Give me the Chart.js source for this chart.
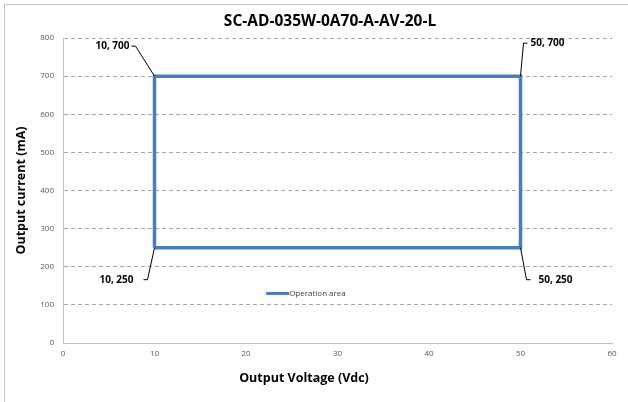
<!DOCTYPE html>
<html>
<head>
<meta charset="utf-8">
<script src="https://cdn.jsdelivr.net/npm/chart.js@4/dist/chart.umd.min.js"></script>
<style>
  html, body { margin: 0; padding: 0; background: #fff; }
  #wrap { position: relative; width: 628px; height: 402px; overflow: hidden; }
  #frame { position: absolute; left: 4px; top: 4px; width: 640px; height: 420px; border: 1px solid #c8c8c8; box-sizing: border-box; pointer-events: none; }
  canvas { position: absolute; left: 0; top: 0; }
</style>
</head>
<body>
<div id="wrap">
  <canvas id="chart" width="628" height="402"></canvas>
  <div id="frame"></div>
</div>
<script>
// === Data ===
const voltage = [10, 10, 50, 50, 10];
const current = [250, 700, 700, 250, 250];
const seriesName = 'Operation area';
const chartTitle = 'SC-AD-035W-0A70-A-AV-20-L';
const xTitle = 'Output Voltage (Vdc)';
const yTitle = 'Output current (mA)';
// corner labels: [x, y] of the point being labelled
const labelPoints = [[10, 700], [50, 700], [10, 250], [50, 250]];

const lineColor = '#4a7ebb';
const textFont = "'Open Sans', 'Liberation Sans', sans-serif";

// === Corner labels, titles + legend plugin ===
// leader line: point -> elbow (dx, dy) -> short tick, then text after a gap
const labelLayout = [
  { dx: -19, dy: -30, side: 'left', gap: 2 },
  { dx: 3, dy: -33, side: 'right', gap: 3 },
  { dx: -7, dy: 32, side: 'left', gap: 10 },
  { dx: 6, dy: 32, side: 'right', gap: 8 }
];

const overlay = {
  id: 'overlay',
  afterDraw(chart) {
    const { ctx, scales: { x, y } } = chart;
    ctx.save();

    // titles
    ctx.fillStyle = '#000';
    ctx.textAlign = 'center';
    ctx.textBaseline = 'middle';
    ctx.font = "bold 15.5px " + textFont;
    ctx.fillText(chartTitle, 330, 22);
    ctx.font = "bold 12.5px " + textFont;
    ctx.fillText(xTitle, 304, 378);

    // corner labels
    ctx.font = "bold 10px " + textFont;
    ctx.strokeStyle = '#000';
    ctx.lineWidth = 1;
    labelPoints.forEach((p, i) => {
      const px = x.getPixelForValue(p[0]);
      const py = y.getPixelForValue(p[1]);
      const l = labelLayout[i];
      const ex = px + l.dx, ey = py + l.dy;
      const tx = l.side === 'left' ? ex - 4 : ex + 4;
      ctx.beginPath();
      ctx.moveTo(px, py);
      ctx.lineTo(ex, ey);
      ctx.lineTo(tx, ey);
      ctx.stroke();
      ctx.textAlign = l.side === 'left' ? 'right' : 'left';
      ctx.fillText(p[0] + ', ' + p[1], l.side === 'left' ? tx - l.gap : tx + l.gap, ey);
    });

    // legend inside the plot
    const lx = x.getPixelForValue(22.2);
    const ly = y.getPixelForValue(130);
    ctx.strokeStyle = lineColor;
    ctx.lineWidth = 3;
    ctx.beginPath();
    ctx.moveTo(lx, ly);
    ctx.lineTo(lx + 23, ly);
    ctx.stroke();
    ctx.font = "8px " + textFont;
    ctx.fillStyle = '#404040';
    ctx.textAlign = 'left';
    ctx.fillText(seriesName, lx + 23, ly);
    ctx.restore();
  }
};

// === Chart ===
new Chart(document.getElementById('chart'), {
  type: 'scatter',
  data: {
    datasets: [{
      label: seriesName,
      data: voltage.map((v, i) => ({ x: v, y: current[i] })),
      showLine: true,
      borderColor: lineColor,
      backgroundColor: lineColor,
      borderWidth: 3.5,
      pointRadius: 0,
      tension: 0
    }]
  },
  options: {
    responsive: false,
    animation: false,
    layout: { padding: { left: 0, right: 16, top: 38, bottom: 0 } },
    plugins: {
      legend: { display: false },
      tooltip: { enabled: false },
      title: { display: false }
    },
    scales: {
      x: {
        type: 'linear',
        min: 0,
        max: 60,
        ticks: { stepSize: 10, color: '#595959', font: { family: textFont, size: 8 }, padding: 6 },
        grid: { display: false, drawTicks: false },
        border: { display: true, color: '#bfbfbf', width: 1 },
        title: { display: false },
        afterFit(s) { s.height = 59; }
      },
      y: {
        min: 0,
        max: 800,
        ticks: { stepSize: 100, color: '#595959', font: { family: textFont, size: 8 }, padding: 9 },
        grid: { color: '#a6a6a6', drawTicks: false },
        border: { display: true, color: '#bfbfbf', width: 1, dash: [4, 3] },
        title: {
          display: true,
          text: yTitle,
          color: '#000',
          font: { family: textFont, size: 12.5, weight: 'bold' },
          padding: { top: 14, bottom: 0 }
        },
        afterFit(s) { s.width = 63; }
      }
    }
  },
  plugins: [overlay]
});
</script>
</body>
</html>
